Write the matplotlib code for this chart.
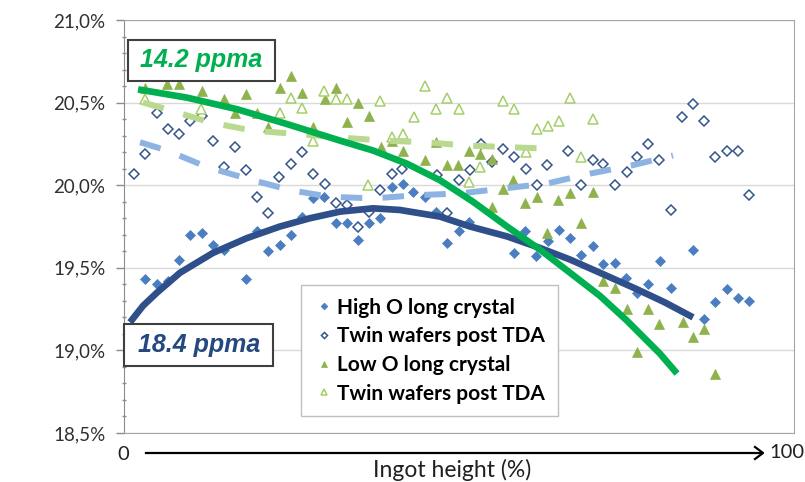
import numpy as np
import matplotlib.pyplot as plt
from matplotlib.patches import Rectangle
from matplotlib.lines import Line2D

# Series colors (Excel-like palette)
HIGH_O_COLOR = "#4A7EC0"
TWIN_BLUE_EDGE = "#34558B"
LOW_O_COLOR = "#8EB24C"
TWIN_GREEN_EDGE = "#A5CF6A"
FIT_DARK_BLUE = "#2E4F8A"
FIT_LIGHT_BLUE = "#8DB3E2"
FIT_GREEN = "#00B050"
FIT_LIGHT_GREEN = "#B9DA8E"

# --- data: ingot height (%) vs. value (%) ---
high_o_x = [3.13, 4.88, 6.52, 8.21, 9.85, 11.57, 13.21, 14.93, 18.21, 19.85,
            21.54, 23.21, 24.93, 26.52, 28.16, 29.85, 31.57, 33.21, 34.93, 36.61,
            38.21, 39.96, 41.60, 43.18, 44.93, 46.61, 48.21, 49.96, 51.54, 58.21,
            59.90, 61.54, 63.33, 64.93, 66.57, 68.21, 69.96, 71.54, 73.28, 74.97,
            76.57, 78.25, 79.96, 81.60, 84.93, 86.57, 88.28, 89.96, 91.57, 93.33]
high_o_y = [19.43, 19.40, 19.42, 19.55, 19.70, 19.71, 19.64, 19.61, 19.43, 19.72,
            19.60, 19.64, 19.70, 19.81, 19.92, 19.93, 19.77, 19.77, 19.67, 19.77,
            19.80, 19.99, 20.01, 19.96, 19.93, 19.84, 19.65, 19.72, 19.78, 19.59,
            19.72, 19.57, 19.66, 19.73, 19.68, 19.58, 19.63, 19.52, 19.53, 19.44,
            19.35, 19.40, 19.54, 19.38, 19.61, 19.19, 19.29, 19.37, 19.32, 19.30]

twin_blue_x = [1.49, 3.13, 4.88, 6.57, 8.21, 9.85, 11.60, 13.21, 14.93, 16.57,
               18.21, 19.85, 21.54, 23.18, 24.93, 26.52, 28.16, 29.93, 31.57, 33.21,
               34.88, 36.57, 38.25, 39.96, 41.49, 46.67, 48.21, 49.96, 51.60, 53.21,
               54.88, 56.52, 58.21, 59.96, 61.60, 63.18, 66.34, 68.21, 69.96, 71.54,
               73.28, 75.00, 76.57, 78.25, 79.90, 81.60, 83.24, 84.93, 86.57, 88.28,
               89.96, 91.57, 93.33]
twin_blue_y = [20.07, 20.19, 20.44, 20.34, 20.31, 20.39, 20.42, 20.27, 20.11, 20.23,
               20.09, 19.93, 19.83, 20.05, 20.13, 20.20, 20.07, 20.01, 19.89, 19.88,
               19.75, 19.84, 19.97, 20.07, 20.10, 20.06, 19.83, 20.03, 20.09, 20.25,
               20.14, 20.22, 20.17, 20.10, 20.00, 20.12, 20.21, 20.00, 20.15, 20.13,
               20.00, 20.08, 20.17, 20.25, 20.15, 19.85, 20.41, 20.49, 20.39, 20.17,
               20.21, 20.21, 19.94]

low_o_x = [3.13, 6.42, 8.28, 11.57, 14.93, 16.57, 18.21, 19.81, 21.54, 23.21,
           24.93, 26.57, 28.16, 29.93, 31.57, 33.21, 34.93, 36.61, 38.31, 39.96,
           41.60, 44.93, 46.61, 48.16, 49.90, 51.54, 53.18, 54.93, 54.88, 56.61,
           58.10, 59.85, 61.60, 63.18, 64.85, 66.57, 68.21, 69.96, 71.54, 73.28,
           75.00, 76.61, 78.25, 79.90, 83.39, 84.97, 86.57, 88.21]
low_o_y = [20.59, 20.61, 20.61, 20.57, 20.52, 20.44, 20.55, 20.44, 20.35, 20.59,
           20.66, 20.56, 20.35, 20.52, 20.59, 20.38, 20.50, 20.42, 20.23, 20.27,
           20.21, 20.15, 20.26, 20.12, 20.12, 20.21, 20.19, 20.16, 19.87, 19.98,
           20.03, 19.89, 19.93, 19.71, 19.91, 19.95, 19.77, 19.96, 19.42, 19.38,
           19.25, 18.99, 19.25, 19.16, 19.17, 19.08, 19.13, 18.86]

twin_green_x = [3.13, 11.49, 23.28, 24.93, 26.57, 28.21, 29.90, 31.64, 33.24, 36.49,
                38.25, 39.96, 41.60, 43.24, 44.93, 46.57, 48.16, 49.96, 51.54, 53.13,
                56.57, 58.21, 59.96, 61.57, 63.21, 64.93, 66.57, 68.21, 69.96]
twin_green_y = [20.52, 20.46, 20.44, 20.53, 20.47, 20.27, 20.57, 20.52, 20.52, 20.00,
                20.51, 20.29, 20.31, 20.41, 20.60, 20.46, 20.53, 20.46, 20.02, 20.11,
                20.51, 20.46, 20.20, 20.34, 20.36, 20.39, 20.53, 20.17, 20.40]

# trend lines
fit_high_o_x = [0.90, 2.84, 4.93, 8.36, 13.28, 18.36, 23.28, 27.76, 32.24, 37.16,
                41.19, 47.16, 51.64, 57.16, 62.09, 66.57, 71.04, 76.57, 80.75, 84.93]
fit_high_o_y = [19.17, 19.27, 19.35, 19.47, 19.59, 19.68, 19.75, 19.80, 19.84, 19.86,
                19.85, 19.81, 19.75, 19.69, 19.62, 19.55, 19.47, 19.37, 19.29, 19.20]

fit_twin_blue_x = [2.39, 6.42, 12.39, 18.36, 24.78, 30.75, 37.16, 43.88, 50.15, 56.57,
                   63.13, 69.55, 75.82, 81.94]
fit_twin_blue_y = [20.26, 20.21, 20.11, 20.04, 19.97, 19.93, 19.92, 19.94, 19.95, 19.98,
                   20.01, 20.07, 20.12, 20.18]

fit_low_o_x = [2.09, 9.40, 16.87, 24.33, 32.24, 37.16, 42.24, 47.16, 52.09, 57.16,
               62.09, 66.57, 71.04, 75.07, 80.00, 82.54]
fit_low_o_y = [20.58, 20.53, 20.46, 20.37, 20.27, 20.21, 20.13, 20.03, 19.90, 19.75,
               19.61, 19.47, 19.33, 19.18, 18.98, 18.86]

fit_twin_green_x = [2.84, 6.42, 12.84, 19.25, 25.82, 31.94, 38.66, 44.93, 51.19, 57.61,
                    64.03]
fit_twin_green_y = [20.50, 20.46, 20.38, 20.33, 20.31, 20.29, 20.27, 20.26, 20.24, 20.23,
                    20.22]

y_ticks = [18.5, 19.0, 19.5, 20.0, 20.5, 21.0]
y_tick_labels = ["18,5%", "19,0%", "19,5%", "20,0%", "20,5%", "21,0%"]
legend_labels = ["High O long crystal", "Twin wafers post TDA",
                 "Low O long crystal", "Twin wafers post TDA"]

W, H = 805, 482
fig = plt.figure(figsize=(W / 100, H / 100), dpi=100)
ax = fig.add_axes([124 / W, 1 - 433 / H, 670 / W, 413 / H])

h1, = ax.plot(high_o_x, high_o_y, ls="none", marker="D", ms=5.3,
              mfc=HIGH_O_COLOR, mec=HIGH_O_COLOR, mew=0.5, zorder=3)
h2, = ax.plot(twin_blue_x, twin_blue_y, ls="none", marker="D", ms=4.8,
              mfc="white", mec=TWIN_BLUE_EDGE, mew=1.1, zorder=3)
h3, = ax.plot(low_o_x, low_o_y, ls="none", marker="^", ms=7.4,
              mfc=LOW_O_COLOR, mec=LOW_O_COLOR, mew=0.5, zorder=3)
h4, = ax.plot(twin_green_x, twin_green_y, ls="none", marker="^", ms=7.0,
              mfc="white", mec=TWIN_GREEN_EDGE, mew=1.1, zorder=3)

dash = (0, (3.6, 3.4))
ax.plot(fit_twin_blue_x, fit_twin_blue_y, color=FIT_LIGHT_BLUE, lw=4.3,
        ls=dash, dash_capstyle="butt", zorder=4)
ax.plot(fit_twin_green_x, fit_twin_green_y, color=FIT_LIGHT_GREEN, lw=4.3,
        ls=dash, dash_capstyle="butt", zorder=4)
ax.plot(fit_high_o_x, fit_high_o_y, color=FIT_DARK_BLUE, lw=4.8,
        solid_capstyle="butt", solid_joinstyle="round", zorder=5)
ax.plot(fit_low_o_x, fit_low_o_y, color=FIT_GREEN, lw=4.8,
        solid_capstyle="butt", solid_joinstyle="round", zorder=5)

ax.set_xlim(0, 100)
ax.set_ylim(18.5, 21.0)
ax.set_xticks([])
ax.set_yticks(y_ticks)
ax.set_yticklabels(y_tick_labels, fontsize=13.5, color="#303030", family="Lato")
ax.set_yticks(np.arange(18.5, 21.0, 0.1), minor=True)
ax.tick_params(axis="y", which="major", direction="out", length=5.5,
               width=1, color="#8C8C8C", pad=8)
ax.tick_params(axis="y", which="minor", direction="inout", length=3,
               width=1, color="#8C8C8C")
ax.grid(axis="y", which="major", color="#D9D9D9", lw=1)
ax.set_axisbelow(True)
for side in ["top", "right", "bottom"]:
    ax.spines[side].set_color("#A6A6A6")
ax.spines["left"].set_color("#8C8C8C")

leg = fig.legend([h1, h2, h3, h4], legend_labels,
                 loc="upper left", bbox_to_anchor=(301 / W, 1 - 285 / H),
                 borderaxespad=0, borderpad=0.6, handlelength=1.0,
                 handletextpad=0.15, labelspacing=0.42, markerscale=0.65,
                 numpoints=1, fancybox=False, framealpha=1, edgecolor="#BFBFBF",
                 prop={"family": "Lato", "weight": "bold", "size": 15})
leg.get_frame().set_linewidth(1)

# labelled boxes
for (x0, y0, x1, y1), label, color in [((128, 40, 275, 81), "14.2 ppma", FIT_GREEN),
                                        ((124.3, 324.3, 273.3, 365.7), "18.4 ppma", "#24487F")]:
    fig.patches.append(Rectangle((x0 / W, 1 - y1 / H), (x1 - x0) / W, (y1 - y0) / H,
                                 transform=fig.transFigure, facecolor="white",
                                 edgecolor="#3F3F3F", lw=1.5, zorder=10))
    fig.text((x0 + x1) / 2 / W, 1 - (y0 + y1) / 2 / H, label, color=color,
             fontsize=18, fontweight="bold", fontstyle="italic",
             family="Liberation Sans", ha="center", va="center", zorder=11)

# x axis drawn as an arrow from 0 to 100
fig.text(123 / W, 1 - 454 / H, "0", fontsize=14.5, family="Lato",
         color="#202020", ha="center", va="center")
fig.text(787 / W, 1 - 453 / H, "100", fontsize=14.5, family="Lato",
         color="#202020", ha="center", va="center")
fig.add_artist(Line2D([146 / W, 762 / W], [1 - 453 / H, 1 - 453 / H],
                      color="black", lw=1.6, transform=fig.transFigure))
fig.add_artist(Line2D([755 / W, 763 / W, 755 / W],
                      [1 - 447 / H, 1 - 453 / H, 1 - 459 / H],
                      color="black", lw=1.6, transform=fig.transFigure))
fig.text(452 / W, 1 - 470 / H, "Ingot height (%)", fontsize=16.5, family="Lato",
         color="#202020", ha="center", va="center")

fig.savefig("out.png", dpi=100)
